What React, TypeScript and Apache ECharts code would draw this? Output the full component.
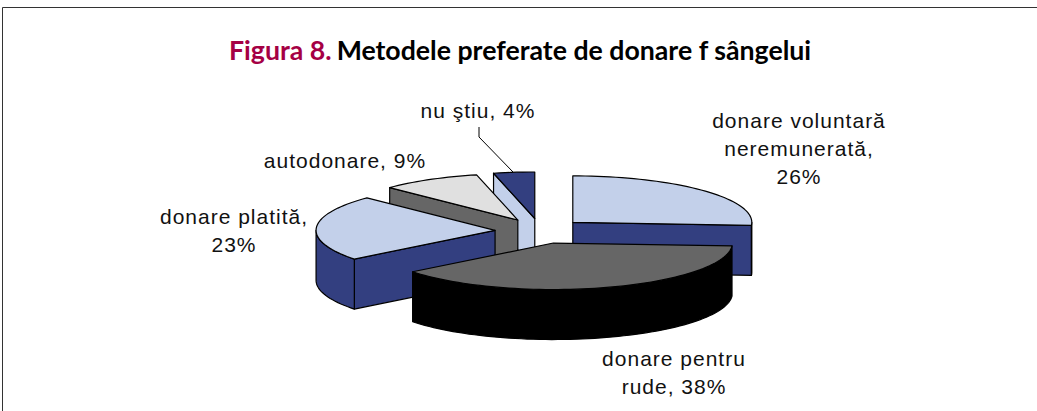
import React, { useEffect, useRef } from "react";
import * as echarts from "echarts";

const titleLead = "Figura 8.";
const titleRest = "Metodele preferate de donare f sângelui";
const categories = ["donare voluntară neremunerată", "donare pentru rude", "donare platită", "autodonare", "nu ştiu"];
const values = [26, 38.4, 22.9, 9, 3.7];
const labelTexts = ["donare voluntară\nneremunerată,\n26%", "donare pentru\nrude, 38%", "donare platită,\n23%", "autodonare, 9%", "nu ştiu, 4%"];

const topColors = ["#c3d0ea", "#666666", "#c3d0ea", "#e0e0e0", "#333f80"];
const sideColors = ["#333f80", "#000000", "#333f80", "#666666", "#c3d0ea"];
const labelAnchors = [[799, 148], [674, 372], [234, 230], [345, 160], [478, 110]];
const paintOrder = [3, 4, 2, 1, 0]; // rank per slice: later = on top

const CX = 540, CY = 231, RX = 179, RY = 46.5, DEPTH = 50, EXPLODE = 45, EXPLODE_Y = 0.28;
const total = values.reduce((a, b) => a + b, 0);
const RAD = Math.PI / 180;

function renderSlice(params: any, api: any) {
  const i = params.dataIndex;
  const before = values.slice(0, i).reduce((a, b) => a + b, 0);
  const a0 = (before / total) * 360;
  const a1 = ((before + api.value(0)) / total) * 360;
  const mid = ((a0 + a1) / 2) * RAD;
  const cx = CX + EXPLODE * Math.sin(mid);
  const cy = CY - EXPLODE * EXPLODE_Y * Math.cos(mid);
  const at = (deg: number, dz = 0) => [cx + RX * Math.sin(deg * RAD), cy - RY * Math.cos(deg * RAD) + dz];
  const arc = (from: number, to: number, dz = 0) => {
    const n = Math.max(2, Math.ceil(Math.abs(to - from) / 2));
    const pts: number[][] = [];
    for (let k = 0; k <= n; k++) pts.push(at(from + ((to - from) * k) / n, dz));
    return pts;
  };
  const rank = paintOrder[i];
  const lineStyle = { fill: sideColors[i], stroke: "#000", lineWidth: 1.2, lineJoin: "round" };
  const children: any[] = [];
  const apex = [cx, cy];
  const apexLow = [cx, cy + DEPTH];
  const radial = (deg: number) => ({
    type: "polygon", z2: rank * 10 + 1, style: lineStyle,
    shape: { points: [apex, at(deg), at(deg, DEPTH), apexLow] },
  });
  if (Math.sin(a0 * RAD) < -1e-6) children.push(radial(a0));
  if (Math.sin(a1 * RAD) > 1e-6) children.push(radial(a1));
  const r0 = Math.max(a0, 90), r1 = Math.min(a1, 270);
  if (r1 > r0) {
    children.push({
      type: "polygon", z2: rank * 10 + 2, style: lineStyle,
      shape: { points: [...arc(r0, r1), ...arc(r1, r0, DEPTH)] },
    });
  }
  children.push({
    type: "polygon", z2: rank * 10 + 3,
    style: { fill: topColors[i], stroke: "#000", lineWidth: 1.2, lineJoin: "round" },
    shape: { points: [apex, ...arc(a0, a1)] },
  });
  children.push({
    type: "text", z2: 100, x: labelAnchors[i][0], y: labelAnchors[i][1],
    style: {
      text: labelTexts[i], fill: "#111", align: "center", verticalAlign: "middle",
      font: '21px "Liberation Sans"', lineHeight: 28,
    },
  });
  return { type: "group", children };
}

export default function App() {
  const ref = useRef<HTMLDivElement>(null);
  useEffect(() => {
    const chart = echarts.init(ref.current!, undefined, { renderer: "svg" });
    chart.setOption({
      animation: false,
      backgroundColor: "#ffffff",
      title: {
        left: 224, top: 31,
        text: `{a|${titleLead}} {b|${titleRest}}`,
        textStyle: {
          rich: {
            a: { fontFamily: "Lato", fontWeight: 700, fontSize: 26.7, color: "#a50044" },
            b: { fontFamily: "Lato", fontWeight: 700, fontSize: 26.7, color: "#000000" },
          },
        },
      },
      graphic: [
        { type: "polyline", shape: { points: [[2.5, 411], [2.5, 7.5], [1037, 7.5]] }, style: { fill: "none", stroke: "#333", lineWidth: 1 } },
        { type: "polyline", z: 10, shape: { points: [[479, 127], [479, 137], [513, 172]] }, style: { fill: "none", stroke: "#000", lineWidth: 1 } },
      ],
      series: [{
        type: "custom",
        coordinateSystem: "none",
        renderItem: renderSlice,
        data: categories.map((name, i) => ({ name, value: [values[i]] })),
      }],
    });
    return () => chart.dispose();
  }, []);
  return (
    <>
      <style>{`#pie text[style*="Liberation"]{letter-spacing:1px}`}</style>
      <div id="pie" ref={ref} style={{ position: "absolute", left: 0, top: 0, width: 1037, height: 411 }} />
    </>
  );
}
